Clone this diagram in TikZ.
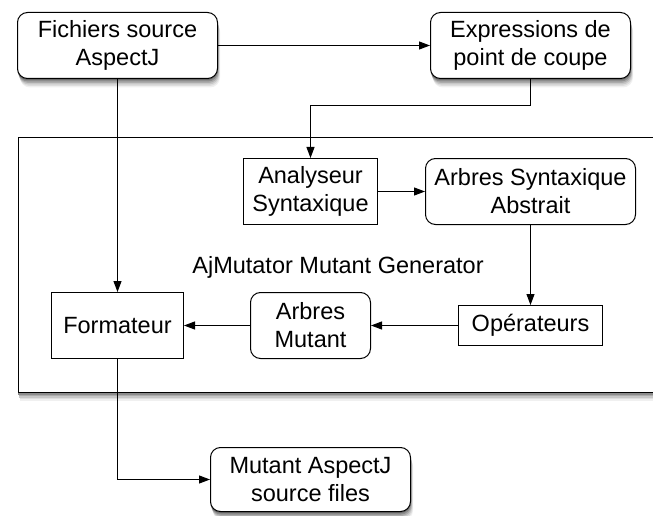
\documentclass[tikz,border=0pt]{standalone}
\usepackage{fontspec}
\setmainfont{Liberation Sans}
\usetikzlibrary{arrows.meta}
\tikzset{
  boxbase/.style={draw=black, line width=1pt, fill=white, align=center, inner sep=0pt,
    font=\fontsize{23.5}{28}\selectfont},
  roundbox/.style={boxbase, rounded corners=10pt},
  squarebox/.style={boxbase},
  conn/.style={line width=1pt, -{Triangle[length=11pt,width=8pt]}},
  lbl/.style={font=\fontsize{23.5}{28}\selectfont, inner sep=0pt},
  shadowfill/.style={rounded corners=#1}
}
% shadow of a box: left, top, right, bottom, corner radius
\newcommand\boxshadow[5]{%
  \fill[black!6, shadowfill=#5] (#1+2.5,#2+9) rectangle (#3+2.5,#4+9);
  \fill[black!13, shadowfill=#5] (#1+2,#2+7.5) rectangle (#3+2,#4+7.5);
  \fill[black!22, shadowfill=#5] (#1+1.5,#2+6) rectangle (#3+1.5,#4+6);
  \fill[black!33, shadowfill=#5] (#1+1,#2+4.5) rectangle (#3+1,#4+4.5);
  \fill[black!45, shadowfill=#5] (#1+0.5,#2+3) rectangle (#3+0.5,#4+3);
  \fill[black!58, shadowfill=#5] (#1,#2+1.5) rectangle (#3,#4+1.5);
}
\begin{document}
\begin{tikzpicture}[x=1pt,y=-1pt]
\useasboundingbox (0,0) rectangle (653,516);
% shadows (drawn first, behind everything)
\begin{scope}
\clip (0,0) rectangle (653,516);
\boxshadow{17.5}{137.5}{717}{391.5}{0pt}
\boxshadow{17.5}{12.5}{217.5}{78.5}{10pt}
\boxshadow{430.5}{12.5}{630.5}{78.5}{10pt}
\boxshadow{210.5}{447.5}{410.5}{511.5}{10pt}
\end{scope}
% container
\begin{scope}
\clip (0,0) rectangle (653,516);
\node[draw=black, line width=1pt, fill=white, minimum width=700pt, minimum height=254pt, inner sep=0pt, anchor=north west] (cont) at (17.5,137.5) {};
\end{scope}
\node[lbl] (title) at (338,267) {AjMutator Mutant Generator};
% nodes
\node[roundbox, minimum width=200pt, minimum height=66pt] (fich) at (117.5,45.5) {Fichiers source\\AspectJ};
\node[roundbox, minimum width=200pt, minimum height=66pt] (expr) at (530.5,45.5) {Expressions de\\point de coupe};
\node[squarebox, minimum width=134pt, minimum height=66pt] (anal) at (310.5,191.5) {Analyseur\\Syntaxique};
\node[roundbox, minimum width=210pt, minimum height=66pt] (asa) at (530.5,191.5) {Arbres Syntaxique\\Abstrait};
\node[squarebox, minimum width=132pt, minimum height=66pt] (form) at (117.5,325.5) {Formateur};
\node[roundbox, minimum width=120pt, minimum height=66pt] (arbm) at (310.5,325.5) {Arbres\\Mutant};
\node[squarebox, minimum width=144pt, minimum height=40pt] (oper) at (530.5,325.5) {Opérateurs};
\node[roundbox, minimum width=200pt, minimum height=64pt] (mut) at (310.5,479.5) {Mutant AspectJ\\source files};
% connectors
\draw[conn] (fich.east) -- (expr.west);
\draw[conn] (expr.south) -- ++(0,27) -| (anal.north);
\draw[conn] (fich.south) -- (form.north);
\draw[conn] (anal.east) -- (asa.west);
\draw[conn] (asa.south) -- (oper.north);
\draw[conn] (oper.west) -- (arbm.east);
\draw[conn] (arbm.west) -- (form.east);
\draw[conn] (form.south) |- (mut.west);
\end{tikzpicture}
\end{document}
